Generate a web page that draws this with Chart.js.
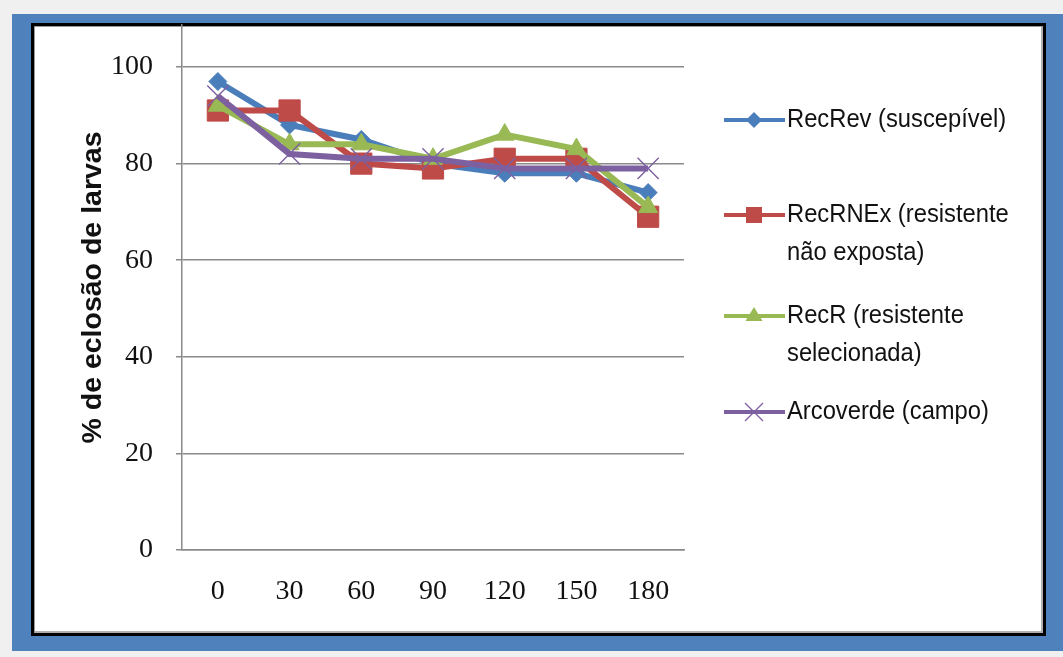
<!DOCTYPE html>
<html>
<head>
<meta charset="utf-8">
<script src="https://cdn.jsdelivr.net/npm/chart.js@4.4.0/dist/chart.umd.min.js"></script>
<style>
  html, body { margin: 0; padding: 0; background: #f0f0f0; width: 1063px; height: 657px; overflow: hidden; }
  #frame { position: absolute; left: 12px; top: 14px; width: 1051px; height: 637px; background: #4f81bd; }
  #panel { position: absolute; left: 31px; top: 23px; width: 1009px; height: 607px; background: #fff;
           border: 3px solid #000; box-shadow: inset 1px 1px 0 #9a9a9a, inset -2px -2px 0 #b0b0b0; }
  #chart { position: absolute; left: 0; top: 0; }
</style>
</head>
<body>
<div id="frame"></div>
<div id="panel"></div>
<canvas id="chart" width="1063" height="657"></canvas>
<script>
// Days after storage (x categories)
const days = ['0', '30', '60', '90', '120', '150', '180'];

// Hatching rate (%) for each population
const recRev = [97, 88, 85, 80, 78, 78, 74];
const recRNEx = [91, 91, 80, 79, 81, 81, 69];
const recR = [92, 84, 84, 81, 86, 83, 71];
const arcoverde = [94, 82, 81, 81, 79, 79, 79];

// Series names (line breaks as shown in the legend)
const seriesNames = [
  'RecRev (suscepível)',
  'RecRNEx (resistente\nnão exposta)',
  'RecR (resistente\nselecionada)',
  'Arcoverde (campo)'
];

const yTitle = '% de eclosão de larvas';
const yTicks = [0, 20, 40, 60, 80, 100];

const colors = ['#4a7ebb', '#be4b48', '#98b954', '#7d60a0'];
const markerStyles = ['rectRot', 'rect', 'triangle', 'crossRot'];
const markerRadius = [9, 15, 11, 15];

// Draws a marker shape for the side legend
function drawMarker(ctx, style, x, y, r, color) {
  ctx.save();
  ctx.fillStyle = color;
  ctx.strokeStyle = color;
  ctx.beginPath();
  if (style === 'rectRot') {
    ctx.moveTo(x - r, y); ctx.lineTo(x, y - r); ctx.lineTo(x + r, y); ctx.lineTo(x, y + r);
    ctx.closePath(); ctx.fill();
  } else if (style === 'rect') {
    ctx.rect(x - r, y - r, 2 * r, 2 * r); ctx.fill();
  } else if (style === 'triangle') {
    ctx.moveTo(x, y - r); ctx.lineTo(x + r * 0.95, y + r * 0.55); ctx.lineTo(x - r * 0.95, y + r * 0.55);
    ctx.closePath(); ctx.fill();
  } else {
    ctx.lineWidth = 1.3;
    ctx.moveTo(x - r, y - r); ctx.lineTo(x + r, y + r);
    ctx.moveTo(x + r, y - r); ctx.lineTo(x - r, y + r);
    ctx.stroke();
  }
  ctx.restore();
}

const sideLegend = {
  id: 'sideLegend',
  afterDraw(chart) {
    const ctx = chart.ctx;
    const rowY = [120, 215, 316, 412];
    const legendMarkerR = [8, 8, 9, 9];
    ctx.save();
    ctx.font = '25px "Liberation Sans Narrow", "Liberation Sans", sans-serif';
    ctx.textBaseline = 'middle';
    ctx.fillStyle = '#111';
    chart.data.datasets.forEach((ds, i) => {
      const y = rowY[i];
      ctx.strokeStyle = ds.borderColor;
      ctx.lineWidth = 4;
      ctx.beginPath();
      ctx.moveTo(724, y); ctx.lineTo(785, y);
      ctx.stroke();
      drawMarker(ctx, markerStyles[i], 754, y, legendMarkerR[i], ds.borderColor);
      ds.label.split('\n').forEach((line, k) => {
        ctx.save();
        ctx.translate(787, y + k * 38);
        ctx.scale(0.95, 1);
        ctx.fillText(line, 0, 0);
        ctx.restore();
      });
    });
    ctx.restore();
  }
};

const seriesData = [recRev, recRNEx, recR, arcoverde];

new Chart(document.getElementById('chart'), {
  type: 'line',
  data: {
    labels: days,
    datasets: seriesData.map((values, i) => ({
      label: seriesNames[i],
      data: values,
      borderColor: colors[i],
      backgroundColor: colors[i],
      borderWidth: 6,
      pointStyle: markerStyles[i],
      pointRadius: markerRadius[i],
      pointBorderWidth: i === 3 ? 1.4 : 1,
      pointBorderColor: colors[i],
      pointBackgroundColor: colors[i],
      tension: 0,
      order: 4 - i
    }))
  },
  options: {
    responsive: false,
    animation: false,
    devicePixelRatio: 1,
    layout: { padding: { left: 0, right: 379, top: 25, bottom: 0 } },
    plugins: {
      legend: { display: false },
      tooltip: { enabled: false }
    },
    scales: {
      x: {
        offset: true,
        grid: { display: false, drawTicks: false },
        border: { color: '#8a8a8a', width: 1.5 },
        ticks: {
          color: '#111',
          padding: 25,
          font: { family: '"Liberation Serif", serif', size: 28 }
        },
        afterFit(scale) { scale.height = 107; scale.paddingLeft = 0; scale.paddingRight = 0; }
      },
      y: {
        min: 0,
        max: 108.7,
        afterBuildTicks(scale) { scale.ticks = yTicks.map(v => ({ value: v })); },
        grid: { color: '#8a8a8a', lineWidth: 1.5, tickLength: 6 },
        border: { color: '#8a8a8a', width: 1.5 },
        ticks: {
          color: '#111',
          padding: 23,
          font: { family: '"Liberation Serif", serif', size: 28 }
        },
        title: {
          display: true,
          text: yTitle,
          color: '#111',
          padding: { top: 76, bottom: 0 },
          font: { family: '"Liberation Sans", sans-serif', size: 28.5, weight: 'bold' }
        },
        afterFit(scale) { scale.width = 182; scale.paddingTop = 0; scale.paddingBottom = 0; }
      }
    }
  },
  plugins: [sideLegend]
});
</script>
</body>
</html>
